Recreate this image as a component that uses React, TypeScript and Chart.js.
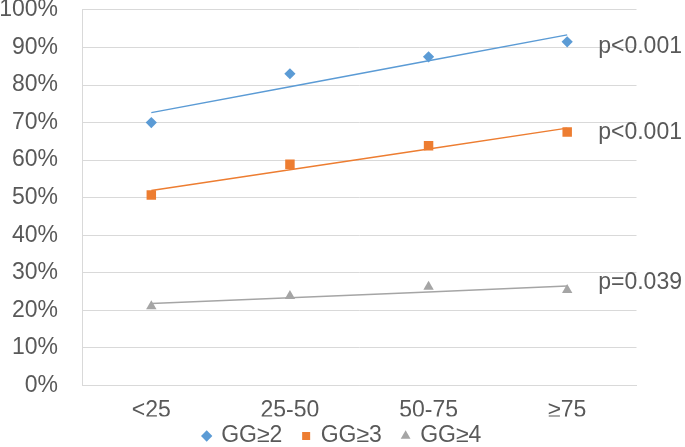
import { useEffect, useRef } from "react";
import { Chart, registerables } from "chart.js";

Chart.register(...registerables);

const categories = ["<25", "25-50", "50-75", "≥75"];
const seriesNames = ["GG≥2", "GG≥3", "GG≥4"];
const gg2 = [70.0, 83.0, 87.5, 91.5];
const gg3 = [50.7, 58.9, 63.8, 67.5];
const gg4 = [21.1, 23.8, 26.3, 25.4];
const pLabels = ["p<0.001", "p<0.001", "p=0.039"];
const pLabelY = [90.2, 67.4, 27.3];

const colors = ["#5B9BD5", "#ED7D31", "#A5A5A5"];
const markerStyles = ["rectRot", "rect", "triangle"];
const markerRadius = [5.6, 6.7, 6];
const FONT = '"Liberation Sans", Arial, sans-serif';
const TEXT = "#595959";
const GRID = "#D9D9D9";

function trend(values: number[]): number[] {
  const n = values.length;
  const xm = (n - 1) / 2;
  const ym = values.reduce((a, b) => a + b, 0) / n;
  let sxy = 0;
  let sxx = 0;
  values.forEach((v, i) => {
    sxy += (i - xm) * (v - ym);
    sxx += (i - xm) * (i - xm);
  });
  const slope = sxy / sxx;
  return values.map((_, i) => ym + slope * (i - xm));
}

const pLabelPlugin = {
  id: "pLabels",
  afterDatasetsDraw(chart: any) {
    const { ctx, scales } = chart;
    const x = scales.x;
    const y = scales.y;
    ctx.save();
    ctx.font = `23px ${FONT}`;
    ctx.fillStyle = TEXT;
    ctx.textAlign = "left";
    ctx.textBaseline = "middle";
    const x0 = x.getPixelForValue(categories.length - 1) + 31;
    pLabels.forEach((t, i) => ctx.fillText(t, x0, y.getPixelForValue(pLabelY[i])));
    ctx.restore();
  },
};

export default function App() {
  const ref = useRef<HTMLCanvasElement | null>(null);

  useEffect(() => {
    if (!ref.current) return;
    const series = [gg2, gg3, gg4];
    const markerSets = series.map((vals, i) => ({
      type: "line" as const,
      label: seriesNames[i],
      data: vals,
      showLine: false,
      pointStyle: markerStyles[i],
      pointRadius: markerRadius[i],
      pointBackgroundColor: colors[i],
      pointBorderWidth: 0,
      backgroundColor: colors[i],
      borderColor: colors[i],
      borderWidth: 0,
    }));
    const trendSets = series.map((vals, i) => ({
      type: "line" as const,
      label: seriesNames[i] + " trend",
      data: trend(vals),
      borderColor: colors[i],
      borderWidth: 1.5,
      pointRadius: 0,
      fill: false,
      tension: 0,
    }));

    const chart = new Chart(ref.current, {
      type: "line",
      data: { labels: categories, datasets: [...markerSets, ...trendSets] as any },
      options: {
        animation: false,
        responsive: false,
        events: [],
        layout: { padding: { left: 0, right: 0, top: 0, bottom: -10.5 } },
        plugins: {
          tooltip: { enabled: false },
          legend: {
            position: "bottom",
            labels: {
              usePointStyle: true,
              boxWidth: 6,
              boxHeight: 8,
              padding: 8,
              color: TEXT,
              font: { size: 23, family: FONT },
              generateLabels(chart: any) {
                const items = Chart.defaults.plugins.legend.labels.generateLabels(chart);
                const kept = items.filter((it: any) => it.datasetIndex < seriesNames.length);
                return kept.map((it: any, i: number) => ({
                  ...it,
                  text: i < kept.length - 1 ? it.text + "  " : it.text,
                }));
              },
            },
          },
        },
        scales: {
          x: {
            type: "category",
            offset: true,
            grid: { display: false },
            border: { display: true, color: GRID, width: 1 },
            ticks: {
              color: TEXT,
              font: { size: 23, family: FONT, lineHeight: 1.2 },
              padding: 3,
              maxRotation: 0,
              autoSkip: false,
            },
            afterFit(s: any) {
              s.height = 31;
            },
          },
          y: {
            min: 0,
            max: 100,
            ticks: {
              stepSize: 10,
              callback: (v: any) => v + "%",
              color: TEXT,
              font: { size: 23, family: FONT, lineHeight: 0.86 },
              padding: 0,
            },
            grid: {
              color: GRID,
              drawTicks: true,
              tickLength: 24,
              tickColor: "rgba(0,0,0,0)",
              lineWidth: 1,
            },
            border: { display: true, color: GRID, width: 1 },
            afterFit(s: any) {
              s.width = 82;
            },
          },
          yRight: {
            type: "linear",
            position: "right",
            display: true,
            grid: { display: false },
            border: { display: false },
            ticks: { display: false },
            afterFit(s: any) {
              s.width = 48.5;
            },
          },
        },
      } as any,
      plugins: [pLabelPlugin],
    });
    return () => chart.destroy();
  }, []);

  return (
    <div style={{ position: "fixed", left: 0, top: 0, width: 685, height: 447, background: "#fff" }}>
      <canvas ref={ref} width={685} height={447} style={{ width: 685, height: 447 }} />
    </div>
  );
}
